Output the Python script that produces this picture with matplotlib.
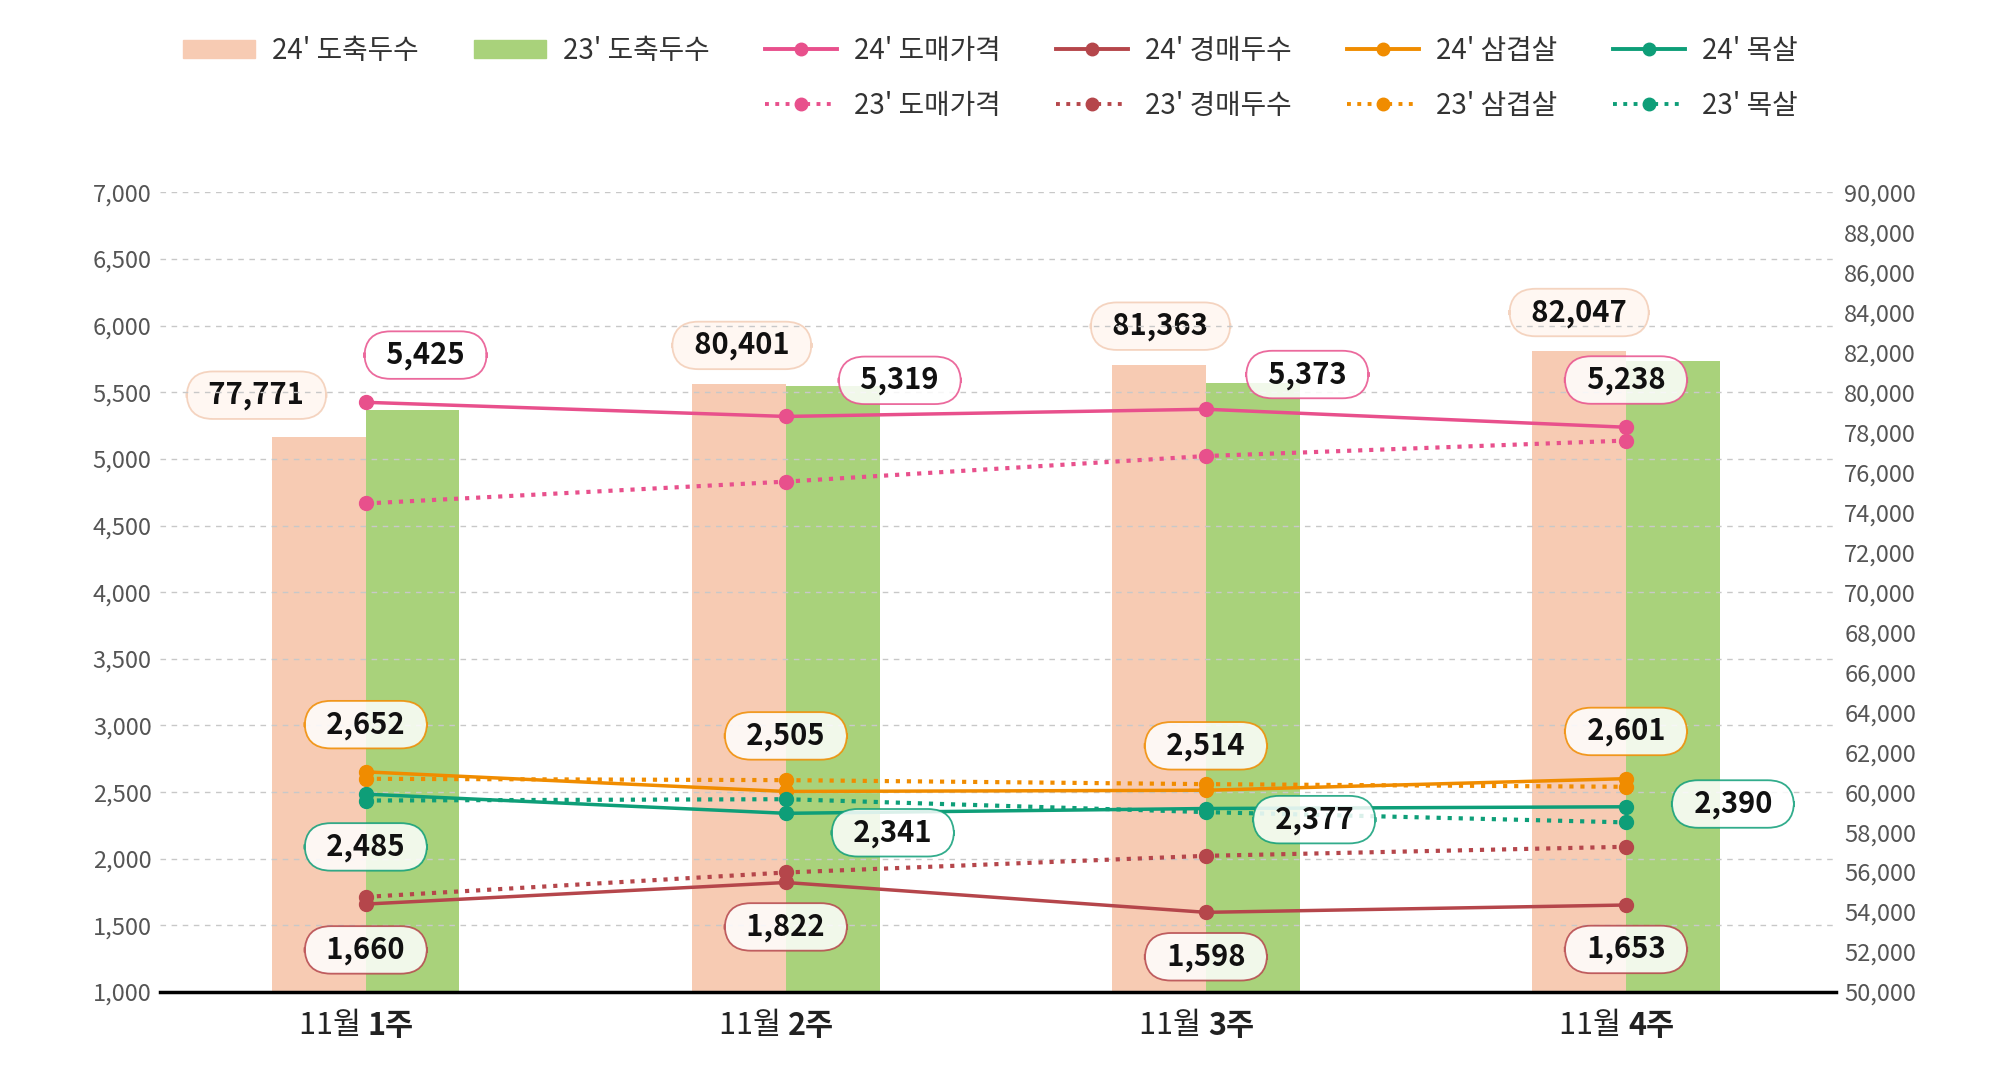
import matplotlib
matplotlib.use("Agg")
import matplotlib.pyplot as plt
from matplotlib.lines import Line2D
from matplotlib.patches import Patch
import numpy as np

plt.rcParams["font.family"] = "Noto Sans CJK KR"

weeks = ["1주", "2주", "3주", "4주"]
month = "11월"
slaughter_24 = [77771, 80401, 81363, 82047]
slaughter_23 = [79100, 80300, 80450, 81550]
price_24 = [5425, 5319, 5373, 5238]
price_23 = [4666, 4830, 5022, 5138]
auction_24 = [1660, 1822, 1598, 1653]
auction_23 = [1714, 1897, 2022, 2090]
belly_24 = [2652, 2505, 2514, 2601]
belly_23 = [2600, 2590, 2560, 2540]
neck_24 = [2485, 2341, 2377, 2390]
neck_23 = [2437, 2447, 2350, 2273]

PEACH = "#F7CBB3"; GREEN = "#A9D27B"; PINK = "#E8508C"; DRED = "#B5464B"
ORANGE = "#F08C00"; TEAL = "#0E9E78"

fig = plt.figure(figsize=(20, 10.69), dpi=100)
ax = fig.add_axes([0.08, 0.072, 0.838, 0.748])
ax2 = ax.twinx()
x = np.arange(len(weeks))
w = 0.223

ax2.bar(x - w/2, slaughter_24, w, color=PEACH, zorder=1)
ax2.bar(x + w/2, slaughter_23, w, color=GREEN, zorder=1)
ax2.set_ylim(50000, 90000)
ax2.set_yticks(range(50000, 90001, 2000))
ax2.set_yticklabels([f"{v:,}" for v in range(50000, 90001, 2000)])

ax.set_zorder(ax2.get_zorder() + 1)
ax.patch.set_visible(False)
ax.set_ylim(1000, 7000)
ax.set_xlim(-0.49, 3.5)
ax.set_yticks(range(1000, 7001, 500))
ax.set_yticklabels([f"{v:,}" for v in range(1000, 7001, 500)])
ax.grid(axis="y", ls=(0, (4, 4)), color="#c8c8c8", lw=1)
ax.set_axisbelow(True)
ax2.yaxis.grid(False)
for a in (ax, ax2):
    for s in a.spines.values():
        s.set_visible(False)
    a.tick_params(length=0, labelsize=17, labelcolor="#555555", pad=6)
ax.spines["bottom"].set_visible(True)
ax.spines["bottom"].set_linewidth(2.5)
ax.spines["bottom"].set_color("black")
ax.set_xticks(x)
ax.set_xticklabels([])
for i, wk in enumerate(weeks):
    ax.text(i + 0.005, -0.022, month + " ", transform=ax.get_xaxis_transform(), ha="right", va="top", fontsize=22, color="#222")
    ax.text(i + 0.005, -0.022, wk, transform=ax.get_xaxis_transform(), ha="left", va="top", fontsize=22, fontweight="bold", color="#222")

series = [(price_24, PINK, "-"), (price_23, PINK, ":"), (auction_24, DRED, "-"), (auction_23, DRED, ":"),
          (belly_24, ORANGE, "-"), (belly_23, ORANGE, ":"), (neck_24, TEAL, "-"), (neck_23, TEAL, ":")]
for vals, c, ls in series:
    ax.plot(x, vals, color=c, ls=ls, lw=2.5 if ls == "-" else 3, marker="o", ms=10, zorder=3)

def lab(a, xi, yi, txt, dx, dy, ec, fc):
    a.annotate("  " + txt + "  ", (xi, yi), xytext=(dx, dy), textcoords="offset points", ha="center", va="center",
               fontsize=21, fontweight="bold", color="#111", zorder=6,
               bbox=dict(boxstyle="round,pad=0.3,rounding_size=0.9", fc=fc, ec=ec, lw=1.3, alpha=0.85))

bar_off = [(-82, 30), (-35, 28), (-36, 28), (-37, 28)]
for i, v in enumerate(slaughter_24):
    lab(ax2, i - w/2, v, f"{v:,}", bar_off[i][0] + 37, bar_off[i][1], "#F3CDB6", "#FFF6F0")
price_off = [(43, 34), (82, 26), (73, 25), (0, 34)]
belly_off = [(0, 34), (0, 40), (0, 32), (0, 34)]
neck_off = [(0, -38), (77, -14), (78, -8), (77, 2)]
auct_off = [(0, -33), (0, -32), (0, -32), (0, -32)]
for vals, offs, ec in [(price_24, price_off, PINK), (belly_24, belly_off, ORANGE),
                       (neck_24, neck_off, TEAL), (auction_24, auct_off, DRED)]:
    for i, v in enumerate(vals):
        lab(ax, i, v, f"{v:,}", offs[i][0], offs[i][1], ec, "#FFFFFF")

blank = Patch(visible=False)
def ln(c, ls):
    return Line2D([], [], color=c, ls=ls, lw=2.8, marker="o", ms=9)
handles = [Patch(color=PEACH), blank, Patch(color=GREEN), blank,
           ln(PINK, "-"), ln(PINK, ":"), ln(DRED, "-"), ln(DRED, ":"),
           ln(ORANGE, "-"), ln(ORANGE, ":"), ln(TEAL, "-"), ln(TEAL, ":")]
labels = ["24' 도축두수", "", "23' 도축두수", "", "24' 도매가격", "23' 도매가격", "24' 경매두수", "23' 경매두수",
          "24' 삼겹살", "23' 삼겹살", "24' 목살", "23' 목살"]
fig.legend(handles, labels, ncol=6, loc="upper center", bbox_to_anchor=(0.495, 0.99), frameon=False,
           fontsize=20, handlelength=2.6, columnspacing=2.0, labelcolor="#333", handleheight=0.6,
           labelspacing=0.9, handletextpad=0.6)

fig.savefig("out.png", dpi=100)
